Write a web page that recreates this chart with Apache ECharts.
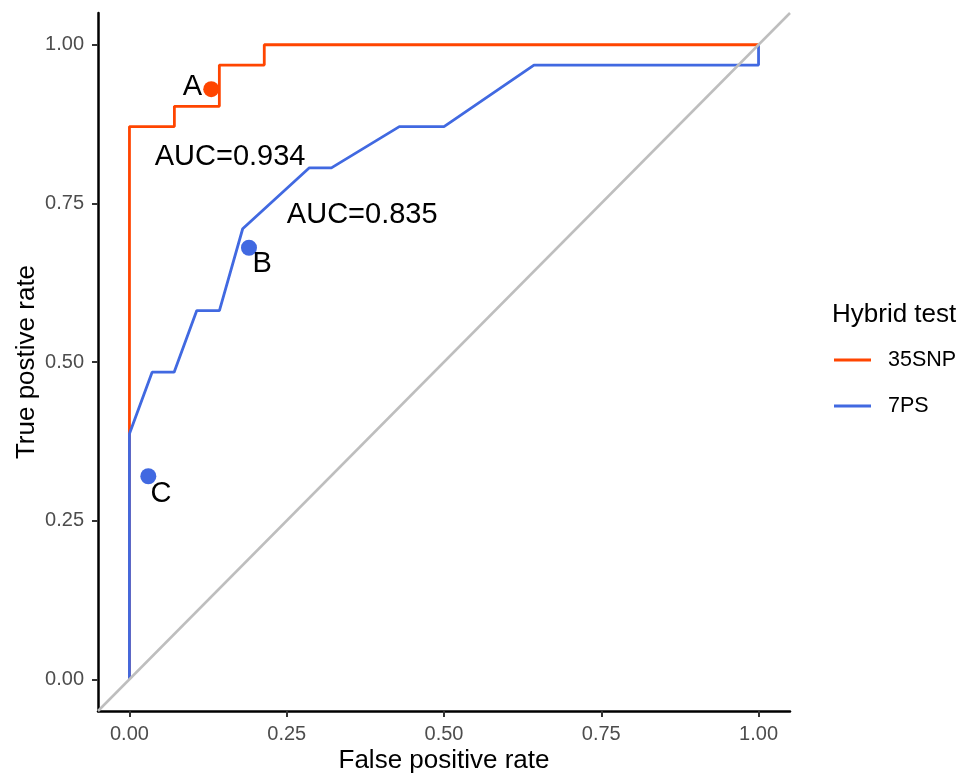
<!DOCTYPE html>
<html><head><meta charset="utf-8">
<script src="https://cdn.jsdelivr.net/npm/echarts@6/dist/echarts.min.js"></script>
<style>html,body{margin:0;padding:0;background:#fff}#c{width:962px;height:776px}</style>
</head><body><div id="c"></div>
<script>
// ROC curve for 35SNP
const snpFPR = [0, 0, 0.0714, 0.0714, 0.1429, 0.1429, 0.2143, 0.2143, 1.0];
const snpTPR = [0, 0.871, 0.871, 0.903, 0.903, 0.968, 0.968, 1.0, 1.0];
// ROC curve for 7PS
const psFPR = [0, 0, 0.036, 0.071, 0.107, 0.143, 0.180, 0.286, 0.321, 0.429, 0.500, 0.643, 1.0, 1.0];
const psTPR = [0, 0.387, 0.484, 0.484, 0.581, 0.581, 0.710, 0.806, 0.806, 0.871, 0.871, 0.968, 0.968, 1.0];
// reference diagonal (spans the whole panel)
const diagX = [-0.05, 1.05];
const diagY = [-0.05, 1.05];
// highlighted points
const pointNames = ['A', 'B', 'C'];
const pointX = [0.13, 0.19, 0.03];
const pointY = [0.93, 0.68, 0.32];
const pointSeries = ['35SNP', '7PS', '7PS'];
// text annotations
const noteText = ['A', 'B', 'C', 'AUC=0.934', 'AUC=0.835'];
const noteX = [0.100, 0.211, 0.050, 0.160, 0.370];
const noteY = [0.939, 0.660, 0.298, 0.829, 0.738];
// axes
const tickValues = [0, 0.25, 0.5, 0.75, 1.0];
const tickLabels = ['0.00', '0.25', '0.50', '0.75', '1.00'];
const seriesNames = ['35SNP', '7PS'];
const legendTitle = 'Hybrid test';
const xTitle = 'False positive rate';
const yTitle = 'True postive rate';

const colors = {'35SNP': '#FF4500', '7PS': '#4169E1'};
const FONT = "'Liberation Sans', Arial, sans-serif";
const zip = (a, b) => a.map((v, i) => [v, b[i]]);
const fmt = v => tickLabels[tickValues.findIndex(t => Math.abs(t - v) < 1e-9)] || '';

function axis(name, gapName, margin) {
  return {
    type: 'value', min: -0.05, max: 1.05,
    name: name, nameLocation: 'middle', nameGap: gapName, nameMoveOverlap: false,
    nameTextStyle: {fontFamily: FONT, fontSize: 26, color: '#000'},
    axisLine: {show: true, onZero: false, lineStyle: {color: '#000', width: 2.5}},
    axisTick: {show: true, length: 6, customValues: tickValues, lineStyle: {color: '#333', width: 2}},
    axisLabel: {show: true, customValues: tickValues, formatter: fmt, margin: margin,
      fontFamily: FONT, fontSize: 20, color: '#4D4D4D'},
    splitLine: {show: false}
  };
}

const chart = echarts.init(document.getElementById('c'), null, {renderer: 'canvas'});
chart.setOption({
  animation: false,
  backgroundColor: '#fff',
  grid: {left: 98, right: 172, top: 13, bottom: 65, containLabel: false, outerBoundsMode: 'none'},
  xAxis: axis(xTitle, 37, 13),
  yAxis: axis(yTitle, 58, 14),
  title: {text: legendTitle, left: 827, top: 297,
    textStyle: {fontFamily: FONT, fontSize: 26, fontWeight: 'normal', color: '#000'}},
  legend: {
    data: seriesNames, orient: 'vertical', left: 829, top: 343,
    icon: 'rect', itemWidth: 37, itemHeight: 3, itemGap: 22,
    selectedMode: false,
    textStyle: {fontFamily: FONT, fontSize: 21.5, color: '#000', lineHeight: 24, padding: [0, 0, 0, 12]}
  },
  series: [
    {name: '35SNP', type: 'line', data: zip(snpFPR, snpTPR), symbol: 'none', z: 2,
      lineStyle: {color: colors['35SNP'], width: 2.8}, itemStyle: {color: colors['35SNP']}},
    {name: '7PS', type: 'line', data: zip(psFPR, psTPR), symbol: 'none', z: 3,
      lineStyle: {color: colors['7PS'], width: 2.8}, itemStyle: {color: colors['7PS']}},
    {name: 'diag', type: 'line', data: zip(diagX, diagY), symbol: 'none', z: 4, silent: true,
      lineStyle: {color: '#BEBEBE', width: 2.5}},
    {name: 'points', type: 'scatter', symbolSize: 16, z: 5, silent: true,
      data: pointNames.map((n, i) => ({name: n, value: [pointX[i], pointY[i]],
        itemStyle: {color: colors[pointSeries[i]], opacity: 1}}))},
    {name: 'notes', type: 'scatter', symbolSize: 1, z: 6, silent: true,
      itemStyle: {color: 'transparent', opacity: 1},
      label: {show: true, position: 'inside', formatter: p => p.name, offset: [0, 4], opacity: 1,
        fontFamily: FONT, fontSize: 29, color: '#000', align: 'center', verticalAlign: 'middle'},
      data: noteText.map((t, i) => ({name: t, value: [noteX[i], noteY[i]]}))}
  ]
});
</script></body></html>
